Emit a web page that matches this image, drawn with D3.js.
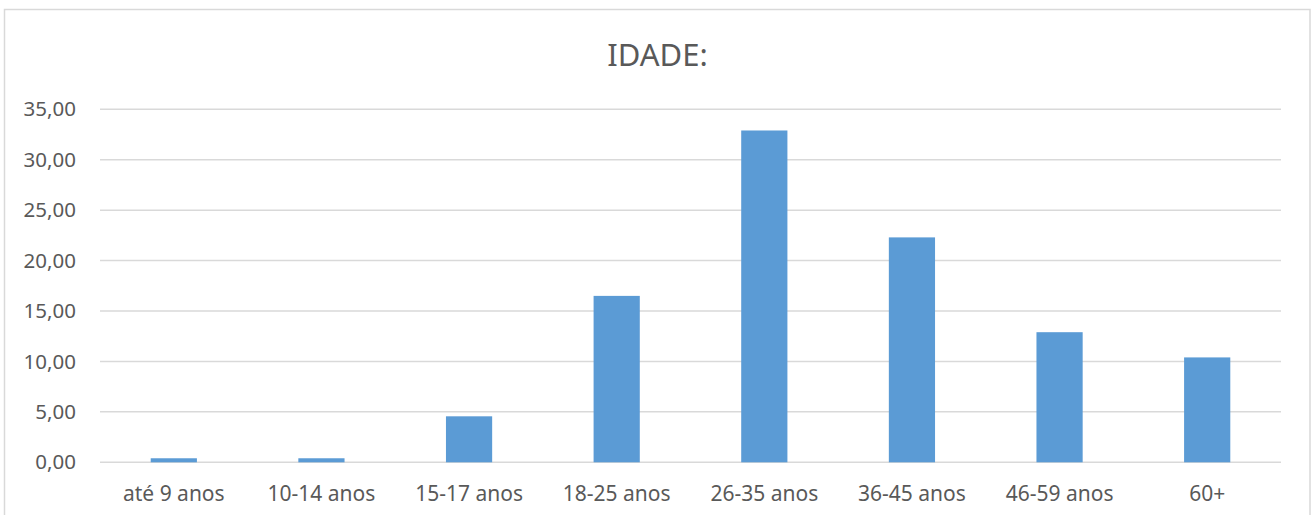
<!DOCTYPE html>
<html>
<head>
<meta charset="utf-8">
<script src="https://cdn.jsdelivr.net/npm/d3@7"></script>
<style>
  html, body { margin: 0; padding: 0; background: #fff; }
  svg { display: block; }
  text { font-family: "Noto Sans", "Open Sans", sans-serif; fill: #595959; }
</style>
</head>
<body>
<svg id="chart" width="1314" height="515"></svg>
<script>
const categories = ["até 9 anos", "10-14 anos", "15-17 anos", "18-25 anos", "26-35 anos", "36-45 anos", "46-59 anos", "60+"];
const values = [0.4, 0.4, 4.56, 16.5, 32.9, 22.3, 12.9, 10.4];
const yTicks = [0, 5, 10, 15, 20, 25, 30, 35];
const title = "IDADE:";

const svg = d3.select("#chart");
const W = 1314, H = 515;
const plot = { left: 100, right: 1281, top: 109.3, bottom: 462.3 };

// chart frame
svg.append("path")
  .attr("d", `M4.5,${H} L4.5,9.5 L1310,9.5 L1310,${H}`)
  .attr("fill", "none").attr("stroke", "#d9d9d9").attr("stroke-width", 1.5);

const x = d3.scaleBand().domain(categories).range([plot.left, plot.right]).paddingInner(0.687).paddingOuter(0.3435);
const y = d3.scaleLinear().domain([0, 35]).range([plot.bottom, plot.top]);

// gridlines
svg.append("g").selectAll("line").data(yTicks).join("line")
  .attr("x1", plot.left).attr("x2", plot.right)
  .attr("y1", d => y(d)).attr("y2", d => y(d))
  .attr("stroke", "#d9d9d9").attr("stroke-width", 1.5);

// y axis labels
const fmt = d => d3.format(".2f")(d).replace(".", ",");
svg.append("g").selectAll("text").data(yTicks).join("text")
  .attr("x", 76).attr("y", d => y(d)).attr("dy", "0.35em")
  .attr("text-anchor", "end").attr("font-size", 20.5)
  .text(fmt);

// bars
svg.append("g").selectAll("rect").data(values).join("rect")
  .attr("x", (d, i) => x(categories[i]))
  .attr("width", x.bandwidth())
  .attr("y", d => y(d))
  .attr("height", d => y(0) - y(d))
  .attr("fill", "#5b9bd5");

// x labels
svg.append("g").selectAll("text").data(categories).join("text")
  .attr("x", d => x(d) + x.bandwidth() / 2)
  .attr("y", 501)
  .attr("text-anchor", "middle").attr("font-size", 21)
  .text(d => d);

// title
svg.append("text")
  .attr("x", (plot.left + plot.right) / 2 - 33).attr("y", 66)
  .attr("text-anchor", "middle").attr("font-size", 31)
  .text(title);
</script>
</body>
</html>
